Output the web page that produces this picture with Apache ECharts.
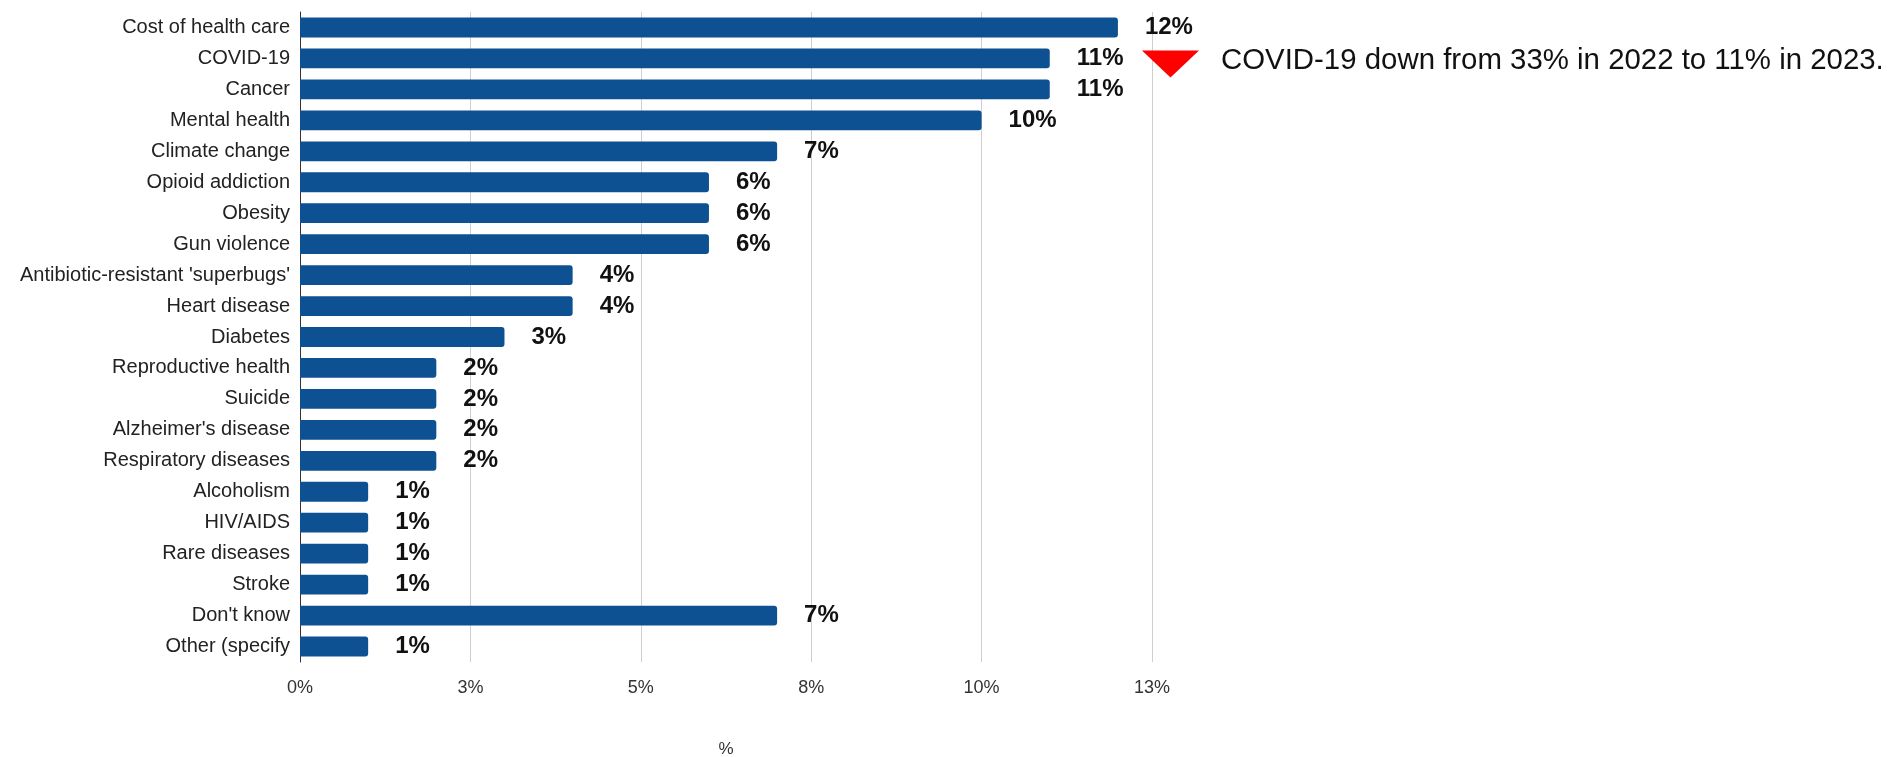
<!DOCTYPE html>
<html>
<head>
<meta charset="utf-8">
<script src="https://cdn.jsdelivr.net/npm/echarts@6/dist/echarts.min.js"></script>
<style>html,body{margin:0;padding:0;background:#fff}#c{width:1895px;height:757px}</style>
</head>
<body>
<div id="c"></div>
<script>
const categories = ["Cost of health care","COVID-19","Cancer","Mental health","Climate change","Opioid addiction","Obesity","Gun violence","Antibiotic-resistant 'superbugs'","Heart disease","Diabetes","Reproductive health","Suicide","Alzheimer's disease","Respiratory diseases","Alcoholism","HIV/AIDS","Rare diseases","Stroke","Don't know","Other (specify"];
const values = [12,11,11,10,7,6,6,6,4,4,3,2,2,2,2,1,1,1,1,7,1];
const tickValues = [0,2.5,5,7.5,10,12.5];
const tickLabels = ["0%","3%","5%","8%","10%","13%"];
const axisName = "%";
const annotationCategory = "COVID-19";
const annotationText = "COVID-19 down from 33% in 2022 to 11% in 2023.";

const chart = echarts.init(document.getElementById('c'));
chart.setOption({
  animation: false,
  backgroundColor: '#fff',
  grid: {left: 300, right: 743, top: 12, bottom: 95, containLabel: false, outerBoundsMode: 'none'},
  xAxis: {
    type: 'value', min: 0, max: 12.5, interval: 2.5,
    name: axisName, nameLocation: 'middle', nameGap: 79,
    nameTextStyle: {fontFamily: 'Liberation Sans', fontSize: 17, color: '#333'},
    axisLine: {show: false}, axisTick: {show: false},
    splitLine: {show: true, lineStyle: {color: '#cfcfcf', width: 1}},
    axisLabel: {
      margin: 17, fontFamily: 'Liberation Sans', fontSize: 18, color: '#333',
      formatter: v => { const i = tickValues.indexOf(v); return i >= 0 ? tickLabels[i] : ''; }
    }
  },
  yAxis: {
    type: 'category', data: categories, inverse: true,
    axisLine: {show: true, lineStyle: {color: '#333', width: 1}},
    axisTick: {show: false},
    axisLabel: {margin: 10, fontFamily: 'Liberation Sans', fontSize: 20, color: '#222'}
  },
  series: [{
    type: 'bar', data: values, barWidth: '64%',
    itemStyle: {color: '#0e5193', borderRadius: [0, 3, 3, 0]},
    label: {
      show: true, position: 'right', distance: 27,
      formatter: p => p.value + '%',
      fontFamily: 'Liberation Sans', fontWeight: 'bold', fontSize: 24, color: '#111'
    }
  }]
});

const yC = chart.convertToPixel({yAxisIndex: 0}, annotationCategory);
const xEnd = chart.convertToPixel({xAxisIndex: 0}, 12.5);
chart.setOption({
  graphic: [
    {type: 'polygon', shape: {points: [[xEnd - 10, yC - 8], [xEnd + 47, yC - 8], [xEnd + 18.5, yC + 19]]}, style: {fill: '#ff0000'}},
    {type: 'text', x: xEnd + 69, y: yC + 2, style: {text: annotationText, fontFamily: 'Liberation Sans', fontSize: 29.4, fill: '#111', verticalAlign: 'middle', align: 'left'}}
  ]
});
</script>
</body>
</html>
